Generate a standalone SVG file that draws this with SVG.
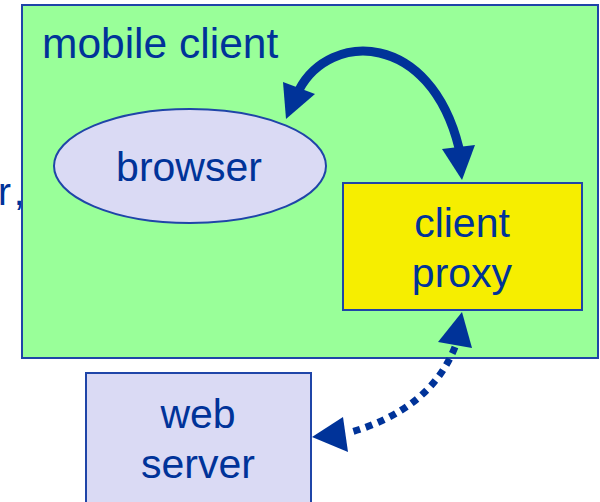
<svg xmlns="http://www.w3.org/2000/svg" width="600" height="502" viewBox="0 0 600 502">
<style>
text{font-family:"Liberation Sans",Arial,sans-serif;fill:#003399;font-size:41px}
.box{stroke:#1f45a8;stroke-width:2}
.head{fill:#003399}
</style>
<rect width="600" height="502" fill="#ffffff"/>
<text x="-2" y="205" style="font-size:39px;letter-spacing:5px">r,</text>
<g id="mobile-client">
<rect class="box" x="22" y="5" width="576" height="353" fill="#99ff99"/>
<text x="42" y="58" style="font-size:42.5px">mobile client</text>
</g>
<g id="browser">
<ellipse class="box" cx="190" cy="166" rx="136" ry="57" fill="#dadaf4"/>
<text x="189" y="181" text-anchor="middle">browser</text>
</g>
<g id="client-proxy">
<rect class="box" x="343" y="183" width="239" height="127" fill="#f6ee00"/>
<text x="462" y="237" text-anchor="middle">client</text>
<text x="462" y="287" text-anchor="middle">proxy</text>
</g>
<g id="web-server">
<rect class="box" x="86" y="373" width="225" height="140" fill="#dadaf4"/>
<text x="198" y="428" text-anchor="middle">web</text>
<text x="198" y="478" text-anchor="middle">server</text>
</g>
<g id="connectors">
<path d="M299,90 C330,31 430,31 459,148" fill="none" stroke="#003399" stroke-width="9"/>
<polygon class="head" points="286,119 283,82 315,94"/>
<polygon class="head" points="462,180 442,149 475,145"/>
<path d="M455,347 Q430,410 348,433" fill="none" stroke="#003399" stroke-width="7" stroke-dasharray="7 6"/>
<polygon class="head" points="462,312 438,342 472,348"/>
<polygon class="head" points="312,437 343,417 348,452"/>
</g>
</svg>
